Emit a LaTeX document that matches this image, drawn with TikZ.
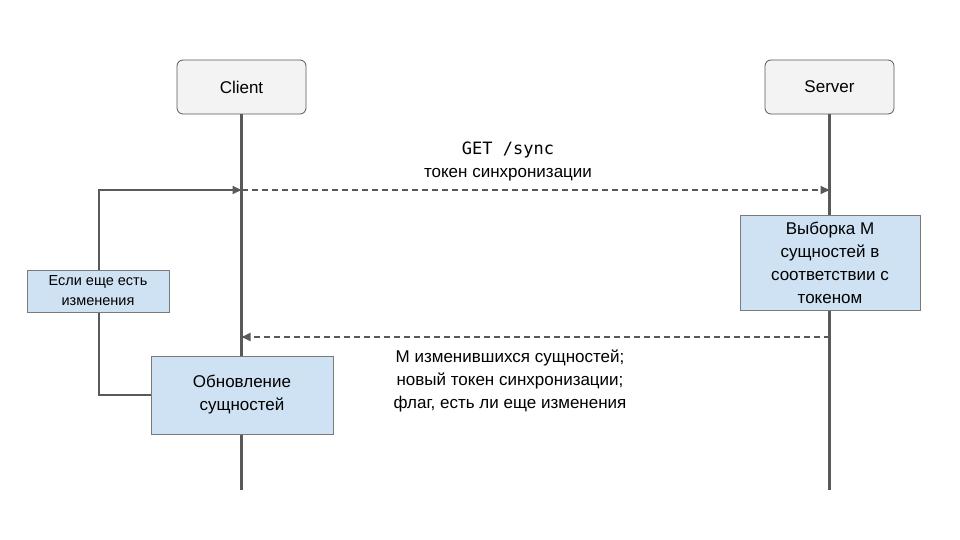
\documentclass[tikz,border=0pt]{standalone}
\usepackage{fontspec}
\setmainfont{Liberation Sans}
\setmonofont{DejaVu Sans Mono}
\usetikzlibrary{arrows.meta}
\definecolor{lg}{HTML}{F3F3F3}
\definecolor{lb}{HTML}{CFE2F3}
\definecolor{dk}{HTML}{595959}
\begin{document}
\begin{tikzpicture}[x=1pt,y=-1pt,
  actor/.style={draw=dk,fill=lg,rounded corners=6pt,minimum width=129pt,minimum height=54pt,font=\fontsize{17}{21}\selectfont,line width=0.8pt},
  proc/.style={draw=dk!80,fill=lb,align=center,font=\fontsize{17}{23}\selectfont,line width=0.6pt},
  life/.style={dk,line width=2.5pt},
  msg/.style={dk,line width=2pt,dash pattern=on 6pt off 4pt,-{Triangle[length=9pt,width=8pt]}},
  lbl/.style={align=center,font=\fontsize{17}{23}\selectfont}]
\useasboundingbox (0,0) rectangle (960,540);
\node[actor] (client) at (241.5,87) {Client};
\node[actor] (server) at (829.5,87) {Server};
\coordinate (cend) at (241.5,490);
\coordinate (send) at (829.5,490);
\draw[life] (client.south) -- (cend);
\draw[life] (server.south) -- (send);
\coordinate (c1) at (241.5,190);
\coordinate (s1) at (829.5,190);
\coordinate (c2) at (241.5,337);
\coordinate (s2) at (829.5,337);
\draw[msg] (c1) -- (s1);
\draw[msg] (s2) -- (c2);
\node[lbl] (m1) at (508,161) {\texttt{GET /sync}\\токен синхронизации};
\node[proc,minimum width=180pt,minimum height=95pt] (sel) at (830,262.5) {Выборка М\\сущностей в\\соответствии с\\токеном};
\node[lbl] (m2) at (510,381) {М изменившихся сущностей;\\новый токен синхронизации;\\флаг, есть ли еще изменения};
\node[proc,minimum width=182pt,minimum height=78pt] (upd) at (242,395) {Обновление\\сущностей};
\coordinate (lc1) at (99,395);
\coordinate (lc2) at (99,190);
\draw[dk,line width=2pt,-{Triangle[length=9pt,width=8pt]}] (upd.west) -- (lc1) -- (lc2) -- (c1);
\node[proc,minimum width=142pt,minimum height=42pt,font=\fontsize{14.5}{20}\selectfont] (loop) at (98,291) {Если еще есть\\изменения};
\end{tikzpicture}
\end{document}
